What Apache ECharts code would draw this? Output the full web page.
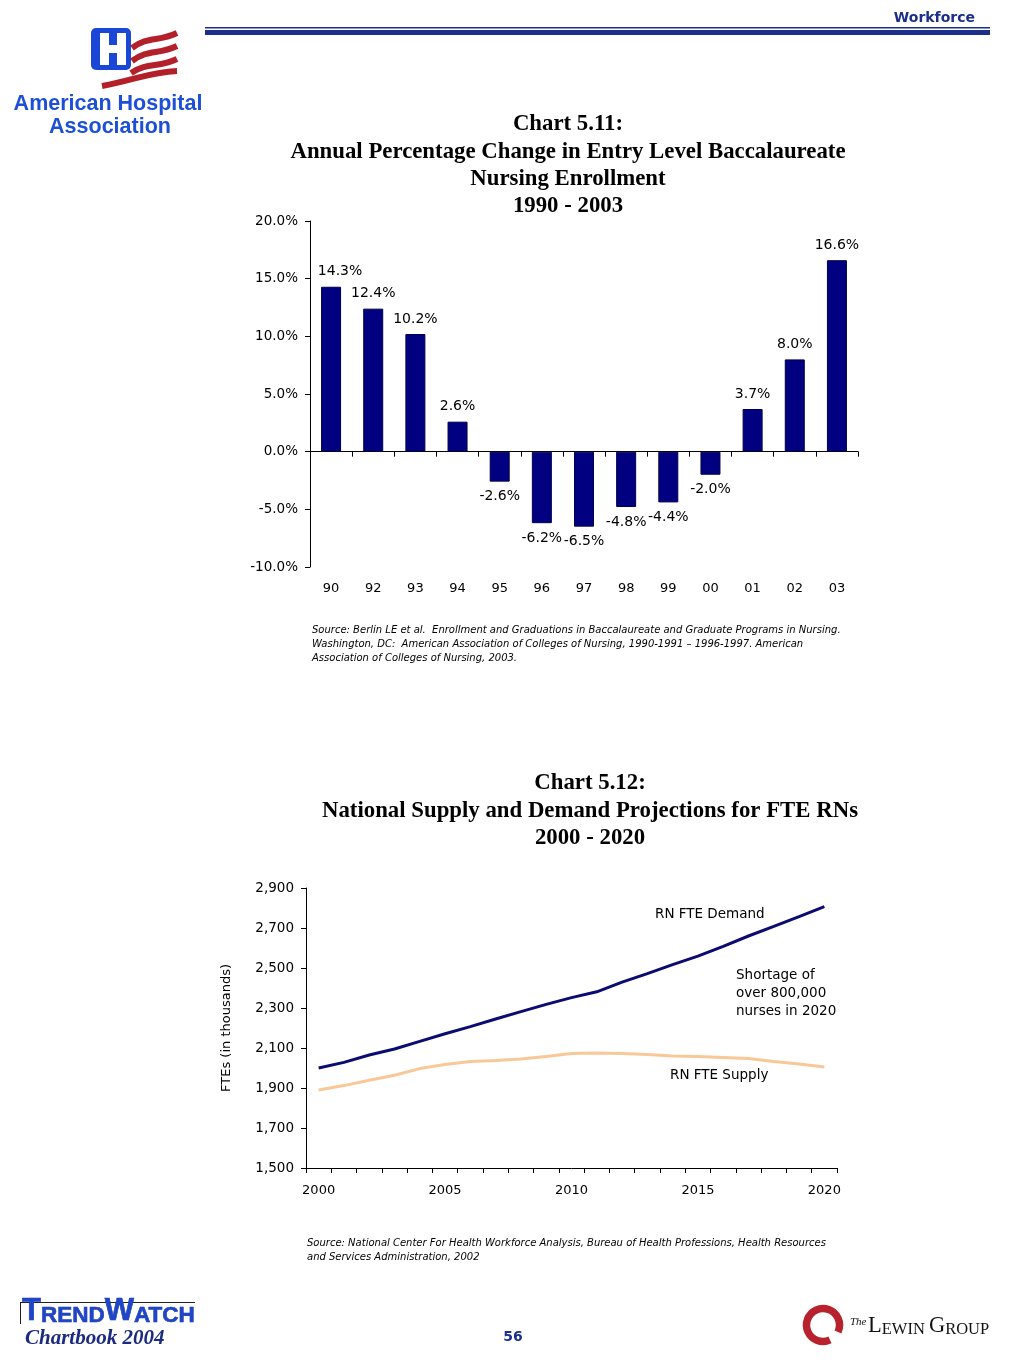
<!DOCTYPE html>
<html><head><meta charset="utf-8">
<script src="https://cdn.jsdelivr.net/npm/echarts@6/dist/echarts.min.js"></script>
<style>html,body{margin:0;padding:0;background:#fff}#c{width:1024px;height:1365px}</style>
</head><body><div id="c"></div>
<script>
// ---- Chart 5.11 data ----
const barCategories = ['90','92','93','94','95','96','97','98','99','00','01','02','03'];
const barValues = [14.3, 12.4, 10.2, 2.6, -2.6, -6.2, -6.5, -4.8, -4.4, -2.0, 3.7, 8.0, 16.6];
const barYMin = -10, barYMax = 20, barYStep = 5;

// ---- Chart 5.12 data ----
const years = ['2000','2001','2002','2003','2004','2005','2006','2007','2008','2009','2010',
               '2011','2012','2013','2014','2015','2016','2017','2018','2019','2020'];
const demandValues = [2000, 2028, 2065, 2095, 2133, 2171, 2207, 2245, 2282, 2318, 2352,
                      2381, 2429, 2472, 2517, 2559, 2608, 2660, 2708, 2757, 2807];
const supplyValues = [1890, 1912, 1939, 1964, 1997, 2017, 2033, 2038, 2045, 2058, 2073,
                      2075, 2073, 2067, 2060, 2058, 2053, 2047, 2033, 2020, 2005];
const lineYMin = 1500, lineYMax = 2900, lineYStep = 200;

const FONT = 'DejaVu Sans';
const SERIF = 'Liberation Serif';
const NAVY = '#000080';
const HEAD_BLUE = '#1b2e8c';

const chart = echarts.init(document.getElementById('c'), null, {renderer: 'canvas'});

const barData = barValues.map((v, i) => ({
  value: v,
  label: {position: v >= 0 ? 'top' : 'bottom', offset: i === 0 ? [9, 0] : [0, 0]}
}));

function txt(text, x, y, opt) {
  return {type: 'text', x: x, y: y, style: Object.assign({
    text: text, fontFamily: FONT, fontSize: 13.5, fill: '#000',
    textAlign: 'left', textVerticalAlign: 'middle'}, opt || {})};
}

const TITLE = {fontFamily: SERIF, fontWeight: 'bold', fontSize: 22.8, textAlign: 'center'};
const SRC = {fontStyle: 'italic', fontSize: 10};

const graphics = [
  // header
  txt('Workforce', 975, 18, {fontWeight: 'bold', fontSize: 14, fill: HEAD_BLUE, textAlign: 'right'}),
  {type: 'rect', shape: {x: 205, y: 27, width: 785, height: 1.5}, style: {fill: HEAD_BLUE}},
  {type: 'rect', shape: {x: 205, y: 30, width: 785, height: 5}, style: {fill: HEAD_BLUE}},
  // AHA logo
  {type: 'rect', shape: {x: 91, y: 28, width: 40, height: 42, r: 5}, style: {fill: '#1a47d6'}},
  {type: 'rect', shape: {x: 100, y: 33, width: 9, height: 32}, style: {fill: '#fff'}},
  {type: 'rect', shape: {x: 117, y: 33, width: 9, height: 32}, style: {fill: '#fff'}},
  {type: 'rect', shape: {x: 100, y: 45, width: 26, height: 8}, style: {fill: '#fff'}},
  {type: 'bezierCurve', shape: {x1: 132, y1: 48, cpx1: 148, cpy1: 36, cpx2: 158, cpy2: 42, x2: 177, y2: 33}, style: {stroke: '#b3202a', lineWidth: 6, fill: null}},
  {type: 'bezierCurve', shape: {x1: 132, y1: 61, cpx1: 148, cpy1: 49, cpx2: 158, cpy2: 55, x2: 177, y2: 46}, style: {stroke: '#b3202a', lineWidth: 6, fill: null}},
  {type: 'bezierCurve', shape: {x1: 131, y1: 73, cpx1: 148, cpy1: 62, cpx2: 158, cpy2: 68, x2: 177, y2: 59}, style: {stroke: '#b3202a', lineWidth: 6, fill: null}},
  {type: 'bezierCurve', shape: {x1: 102, y1: 86, cpx1: 135, cpy1: 80, cpx2: 150, cpy2: 72, x2: 177, y2: 71}, style: {stroke: '#b3202a', lineWidth: 6, fill: null}},
  txt('American Hospital', 108, 104, {fontFamily: 'Liberation Sans', fontWeight: 'bold', fontSize: 21.5, fill: '#1d4fd8', textAlign: 'center'}),
  txt('Association', 110, 127, {fontFamily: 'Liberation Sans', fontWeight: 'bold', fontSize: 21.5, fill: '#1d4fd8', textAlign: 'center'}),
  // Chart 5.11 title
  txt('Chart 5.11:', 568, 124, TITLE),
  txt('Annual Percentage Change in Entry Level Baccalaureate', 568, 152, TITLE),
  txt('Nursing Enrollment', 568, 179, TITLE),
  txt('1990 - 2003', 568, 206, TITLE),
  // source 1
  txt('Source: Berlin LE et al.  Enrollment and Graduations in Baccalaureate and Graduate Programs in Nursing.', 312, 630, SRC),
  txt('Washington, DC:  American Association of Colleges of Nursing, 1990-1991 \u2013 1996-1997. American', 312, 644, SRC),
  txt('Association of Colleges of Nursing, 2003.', 312, 658, SRC),
  // Chart 5.12 title
  txt('Chart 5.12:', 590, 783, TITLE),
  txt('National Supply and Demand Projections for FTE RNs', 590, 811, TITLE),
  txt('2000 - 2020', 590, 838, TITLE),
  // annotations
  txt('RN FTE Demand', 655, 914),
  txt('Shortage of', 736, 975),
  txt('over 800,000', 736, 993),
  txt('nurses in 2020', 736, 1011),
  txt('RN FTE Supply', 670, 1075),
  // source 2
  txt('Source: National Center For Health Workforce Analysis, Bureau of Health Professions, Health Resources', 307, 1243, SRC),
  txt('and Services Administration, 2002', 307, 1257, SRC),
  // footer: TrendWatch
  {type: 'rect', shape: {x: 20, y: 1302, width: 175, height: 1}, style: {fill: '#222'}},
  {type: 'rect', shape: {x: 20, y: 1302, width: 1, height: 22}, style: {fill: '#222'}},
  {type: 'text', x: 22, y: 1327, style: {
    text: '{a|T}{b|REND}{a|W}{b|ATCH}', textVerticalAlign: 'bottom',
    rich: {
      a: {fontFamily: 'Liberation Sans', fontWeight: 'bold', fontSize: 31, lineHeight: 30, fill: '#1f45c8', stroke: '#13308f', lineWidth: 0.6, verticalAlign: 'bottom'},
      b: {fontFamily: 'Liberation Sans', fontWeight: 'bold', fontSize: 22.5, lineHeight: 24, fill: '#1f45c8', stroke: '#13308f', lineWidth: 0.6, verticalAlign: 'bottom'}
    }}},
  txt('Chartbook 2004', 25, 1339, {fontFamily: SERIF, fontWeight: 'bold', fontStyle: 'italic', fontSize: 21, fill: '#1b2b7f'}),
  txt('56', 513, 1337, {fontWeight: 'bold', fontSize: 14, fill: HEAD_BLUE, textAlign: 'center'}),
  // Lewin Group
  {type: 'arc', shape: {cx: 823, cy: 1325, r: 16.5, startAngle: 65 * Math.PI / 180, endAngle: 385 * Math.PI / 180, clockwise: true},
    style: {stroke: '#b8222e', lineWidth: 7.5, fill: null}},
  txt('The', 850, 1322, {fontFamily: SERIF, fontStyle: 'italic', fontSize: 11, fill: '#111'}),
  {type: 'text', x: 868, y: 1338, style: {
    text: '{L|L}{m|EWIN }{L|G}{m|ROUP}', textVerticalAlign: 'bottom',
    rich: {
      L: {fontFamily: SERIF, fontSize: 22.5, lineHeight: 22, fill: '#111', verticalAlign: 'bottom'},
      m: {fontFamily: SERIF, fontSize: 16.5, lineHeight: 18, fill: '#111', verticalAlign: 'bottom'}
    }}}
];

const axisLabelStyle = {color: '#000', fontFamily: FONT, fontSize: 13};

const option = {
  backgroundColor: '#fff',
  animation: false,
  grid: [
    {left: 310, top: 221, width: 548, height: 346, containLabel: false},
    {left: 306, top: 888, width: 531, height: 280, containLabel: false}
  ],
  xAxis: [
    {gridIndex: 0, type: 'category', data: barCategories, position: 'bottom',
     axisLine: {show: false, onZero: false}, axisTick: {show: false},
     axisLabel: Object.assign({margin: 15}, axisLabelStyle), splitLine: {show: false}},
    {gridIndex: 0, type: 'category', data: barCategories, position: 'bottom',
     axisLine: {show: true, onZero: true, onZeroAxisIndex: 0, lineStyle: {color: '#000', width: 1}},
     axisTick: {show: true, interval: 0, length: 5, lineStyle: {color: '#000'}},
     axisLabel: {show: false}, splitLine: {show: false}},
    {gridIndex: 1, type: 'category', data: years, boundaryGap: true,
     axisLine: {show: true, lineStyle: {color: '#000', width: 1}},
     axisTick: {show: true, interval: 0, length: 5, lineStyle: {color: '#000'}},
     axisLabel: Object.assign({interval: 4, margin: 16}, axisLabelStyle), splitLine: {show: false}}
  ],
  yAxis: [
    {gridIndex: 0, type: 'value', min: barYMin, max: barYMax, interval: barYStep,
     axisLine: {show: true, lineStyle: {color: '#000', width: 1}},
     axisTick: {show: true, length: 5, lineStyle: {color: '#000'}},
     splitLine: {show: false},
     axisLabel: Object.assign({}, axisLabelStyle, {margin: 12, fontSize: 13.5, formatter: v => v.toFixed(1) + '%'})},
    {gridIndex: 1, type: 'value', min: lineYMin, max: lineYMax, interval: lineYStep,
     name: 'FTEs (in thousands)', nameLocation: 'middle', nameRotate: 90, nameGap: 73,
     nameTextStyle: {color: '#000', fontFamily: FONT, fontSize: 13},
     axisLine: {show: true, lineStyle: {color: '#000', width: 1}},
     axisTick: {show: true, length: 5, lineStyle: {color: '#000'}},
     splitLine: {show: false},
     axisLabel: Object.assign({}, axisLabelStyle, {margin: 12, fontSize: 13.5, formatter: v => v.toLocaleString('en-US')})}
  ],
  series: [
    {type: 'bar', xAxisIndex: 0, yAxisIndex: 0, data: barData, barWidth: 20,
     itemStyle: {color: NAVY, borderColor: '#00004a', borderWidth: 1},
     label: {show: true, distance: 8, color: '#000', fontFamily: FONT, fontSize: 14,
             formatter: p => p.value.toFixed(1) + '%'}},
    {type: 'line', name: 'RN FTE Demand', xAxisIndex: 2, yAxisIndex: 1, data: demandValues,
     showSymbol: false, symbol: 'none', lineStyle: {color: '#0b0b72', width: 3}},
    {type: 'line', name: 'RN FTE Supply', xAxisIndex: 2, yAxisIndex: 1, data: supplyValues,
     showSymbol: false, symbol: 'none', lineStyle: {color: '#f9c899', width: 3}}
  ],
  graphic: graphics
};

chart.setOption(option);
</script>
</body></html>
